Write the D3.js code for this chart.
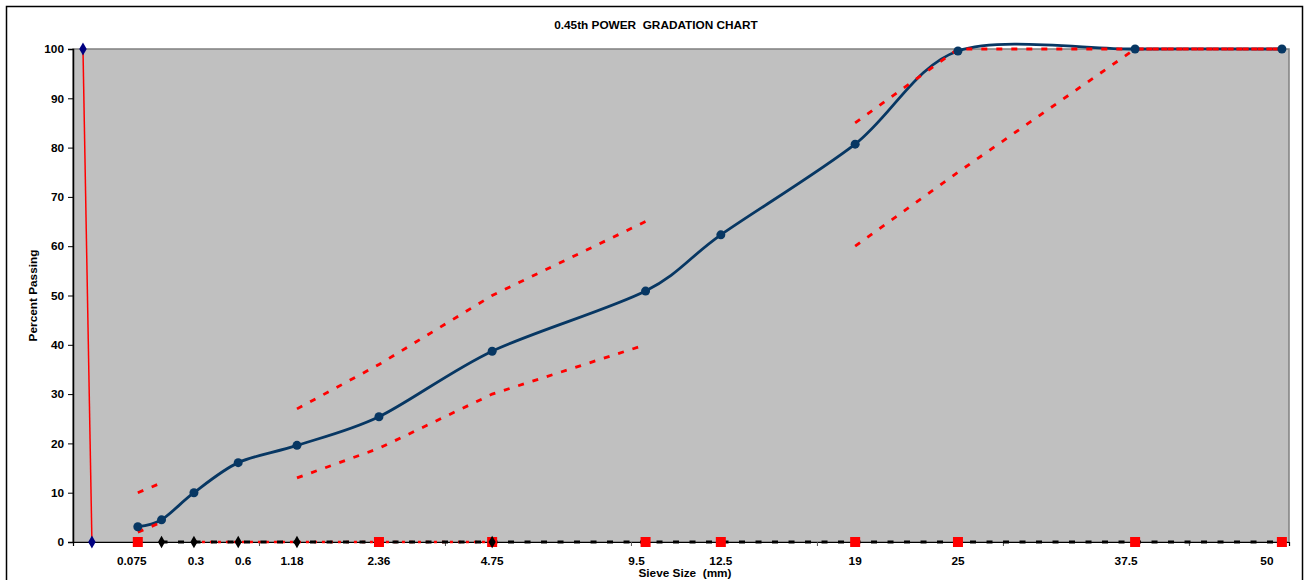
<!DOCTYPE html>
<html>
<head>
<meta charset="utf-8">
<script src="https://cdn.jsdelivr.net/npm/d3@7"></script>
<style>
  body { margin: 0; background: #fff; }
  text { font-family: "Liberation Sans", Arial, sans-serif; font-weight: bold; fill: #000; }
</style>
</head>
<body>
<svg id="chart" width="1306" height="580"></svg>
<script>
// sieve sizes (mm) and percent passing
const sieves = [0.075, 0.15, 0.3, 0.6, 1.18, 2.36, 4.75, 9.5, 12.5, 19, 25, 37.5, 50];
const passing = [3.1, 4.5, 10.0, 16.1, 19.6, 25.4, 38.7, 50.9, 62.3, 80.7, 99.6, 100, 100];
// specification band (null = no point)
const upperBand = [10, 12, null, null, 27, 36, 50, 65, null, 85, 100, 100, 100];
const lowerBand = [2, 4, null, null, 13, 19, 30, 40, null, 60, 75, 100, 100];

// helper series sitting on the zero line
const blackLineSieves = [0.15, 0.3, 0.6, 1.18, 2.36, 4.75, 9.5, 12.5, 19, 25, 37.5, 50];
const blackMarkerSieves = [0.15, 0.3, 0.6, 1.18, 4.75];
const redDotSieves = [0.3, 0.6, 1.18, 2.36, 4.75];
const redSquareSieves = [0.075, 2.36, 4.75, 9.5, 12.5, 19, 25, 37.5, 50];

// stray pair near the y axis (x already in 0.45 power units)
const strayX = [0.048, 0.091];
const strayY = [100, 0];

const xLabels = ["0.075", "0.3", "0.6", "1.18", "2.36", "4.75", "9.5", "12.5", "19", "25", "37.5", "50"];
const yTicks = [0, 10, 20, 30, 40, 50, 60, 70, 80, 90, 100];

const POWER = 0.45;
const pw = d => Math.pow(d, POWER);
const xMax = 5.849;
const xStep = pw(50) / 6.5;

const svg = d3.select("#chart");
const margin = { left: 73, right: 17, top: 49, bottom: 38 };
const W = 1306, H = 580;
const FS = 11.8;

// the hand-placed labels sit a little off their sieve
const labelNudge = { "0.075": -6, "0.3": 2, "0.6": 5, "1.18": -5, "9.5": -9, "37.5": -9, "50": -15 };

const x = d3.scaleLinear().domain([0, xMax]).range([margin.left, W - margin.right]);
const y = d3.scaleLinear().domain([0, 100]).range([H - margin.bottom, margin.top]);

// outer chart border
svg.append("rect")
  .attr("x", 6.5).attr("y", 6.5).attr("width", 1296).attr("height", 600)
  .attr("fill", "#fff").attr("stroke", "#000").attr("stroke-width", 1.5);

svg.append("text")
  .attr("x", 656).attr("y", 29)
  .attr("text-anchor", "middle").attr("font-size", FS)
  .text("0.45th POWER  GRADATION CHART")
  .style("white-space", "pre");

// plot area
svg.append("rect")
  .attr("x", x(0)).attr("y", y(100))
  .attr("width", x(xMax) - x(0)).attr("height", y(0) - y(100))
  .attr("fill", "#C0C0C0").attr("stroke", "#808080").attr("stroke-width", 1.5);

// axes
const yAxis = svg.append("g")
  .attr("transform", `translate(${x(0)},0)`)
  .call(d3.axisLeft(y).tickValues(yTicks).tickSize(5).tickPadding(4));
yAxis.select(".domain").attr("stroke", "#000").attr("stroke-width", 1.5);
yAxis.selectAll("text").attr("font-size", FS).attr("fill", "#000");

const xAxis = svg.append("g")
  .attr("transform", `translate(0,${y(0)})`)
  .call(d3.axisBottom(x).tickValues(d3.range(1, 7).map(k => k * xStep)).tickSize(4).tickFormat(""));
xAxis.select(".domain").attr("stroke", "#000").attr("stroke-width", 1.2);
xAxis.selectAll(".tick line").attr("stroke", "#555");

// x labels at sieve positions
svg.append("g").selectAll("text")
  .data(xLabels)
  .join("text")
  .attr("x", d => x(pw(+d)) + (labelNudge[d] || 0))
  .attr("y", 565)
  .attr("text-anchor", "middle")
  .attr("font-size", FS)
  .text(d => d);

svg.append("text")
  .attr("x", 685).attr("y", 577)
  .attr("text-anchor", "middle").attr("font-size", FS)
  .style("white-space", "pre")
  .text("Sieve Size  (mm)");

svg.append("text")
  .attr("transform", `translate(37,${(y(0) + y(100)) / 2}) rotate(-90)`)
  .attr("text-anchor", "middle").attr("font-size", FS)
  .text("Percent Passing");

const plot = svg.append("g");

// stray red line with navy diamonds
const strayPts = strayX.map((v, i) => [v, strayY[i]]);
plot.append("path")
  .datum(strayPts)
  .attr("fill", "none").attr("stroke", "#FF0000").attr("stroke-width", 1.5)
  .attr("d", d3.line().x(d => x(d[0])).y(d => y(d[1])));
plot.append("g").selectAll("path")
  .data(strayPts)
  .join("path")
  .attr("transform", d => `translate(${x(d[0])},${y(d[1])})`)
  .attr("d", d3.symbol(d3.symbolDiamond, 48))
  .attr("fill", "#000080");

// zero line series
const zeroLine = d3.line().x(d => x(pw(d))).y(() => y(0));
plot.append("path")
  .datum(redDotSieves)
  .attr("fill", "none").attr("stroke", "#FF0000").attr("stroke-width", 2.5)
  .attr("stroke-dasharray", "3,5")
  .attr("d", zeroLine);
plot.append("path")
  .datum(blackLineSieves)
  .attr("fill", "none").attr("stroke", "#000").attr("stroke-width", 3)
  .attr("stroke-dasharray", "6,10.5")
  .attr("d", zeroLine);
plot.append("g").selectAll("rect")
  .data(redSquareSieves)
  .join("rect")
  .attr("x", d => x(pw(d)) - 5).attr("y", y(0) - 5)
  .attr("width", 10).attr("height", 10)
  .attr("fill", "#FF0000");
plot.append("g").selectAll("path")
  .data(blackMarkerSieves)
  .join("path")
  .attr("transform", d => `translate(${x(pw(d))},${y(0)})`)
  .attr("d", d3.symbol(d3.symbolDiamond, 44))
  .attr("fill", "#000");

// gradation curve (smoothed)
const gradPts = sieves.map((s, i) => [pw(s), passing[i]]);
plot.append("path")
  .datum(gradPts)
  .attr("fill", "none").attr("stroke", "#073763").attr("stroke-width", 2.8)
  .attr("d", d3.line().curve(d3.curveCardinal.tension(0.1)).x(d => x(d[0])).y(d => y(d[1])));

// specification band
const bandLine = d3.line()
  .defined(d => d[1] !== null)
  .x(d => x(d[0])).y(d => y(d[1]));
[upperBand, lowerBand].forEach(band => {
  plot.append("path")
    .datum(sieves.map((s, i) => [pw(s), band[i]]))
    .attr("fill", "none").attr("stroke", "#FF0000").attr("stroke-width", 2.8)
    .attr("stroke-dasharray", "6,9")
    .attr("d", bandLine);
});

plot.append("g").selectAll("circle")
  .data(gradPts)
  .join("circle")
  .attr("cx", d => x(d[0])).attr("cy", d => y(d[1]))
  .attr("r", 4.5)
  .attr("fill", "#073763");
</script>
</body>
</html>
